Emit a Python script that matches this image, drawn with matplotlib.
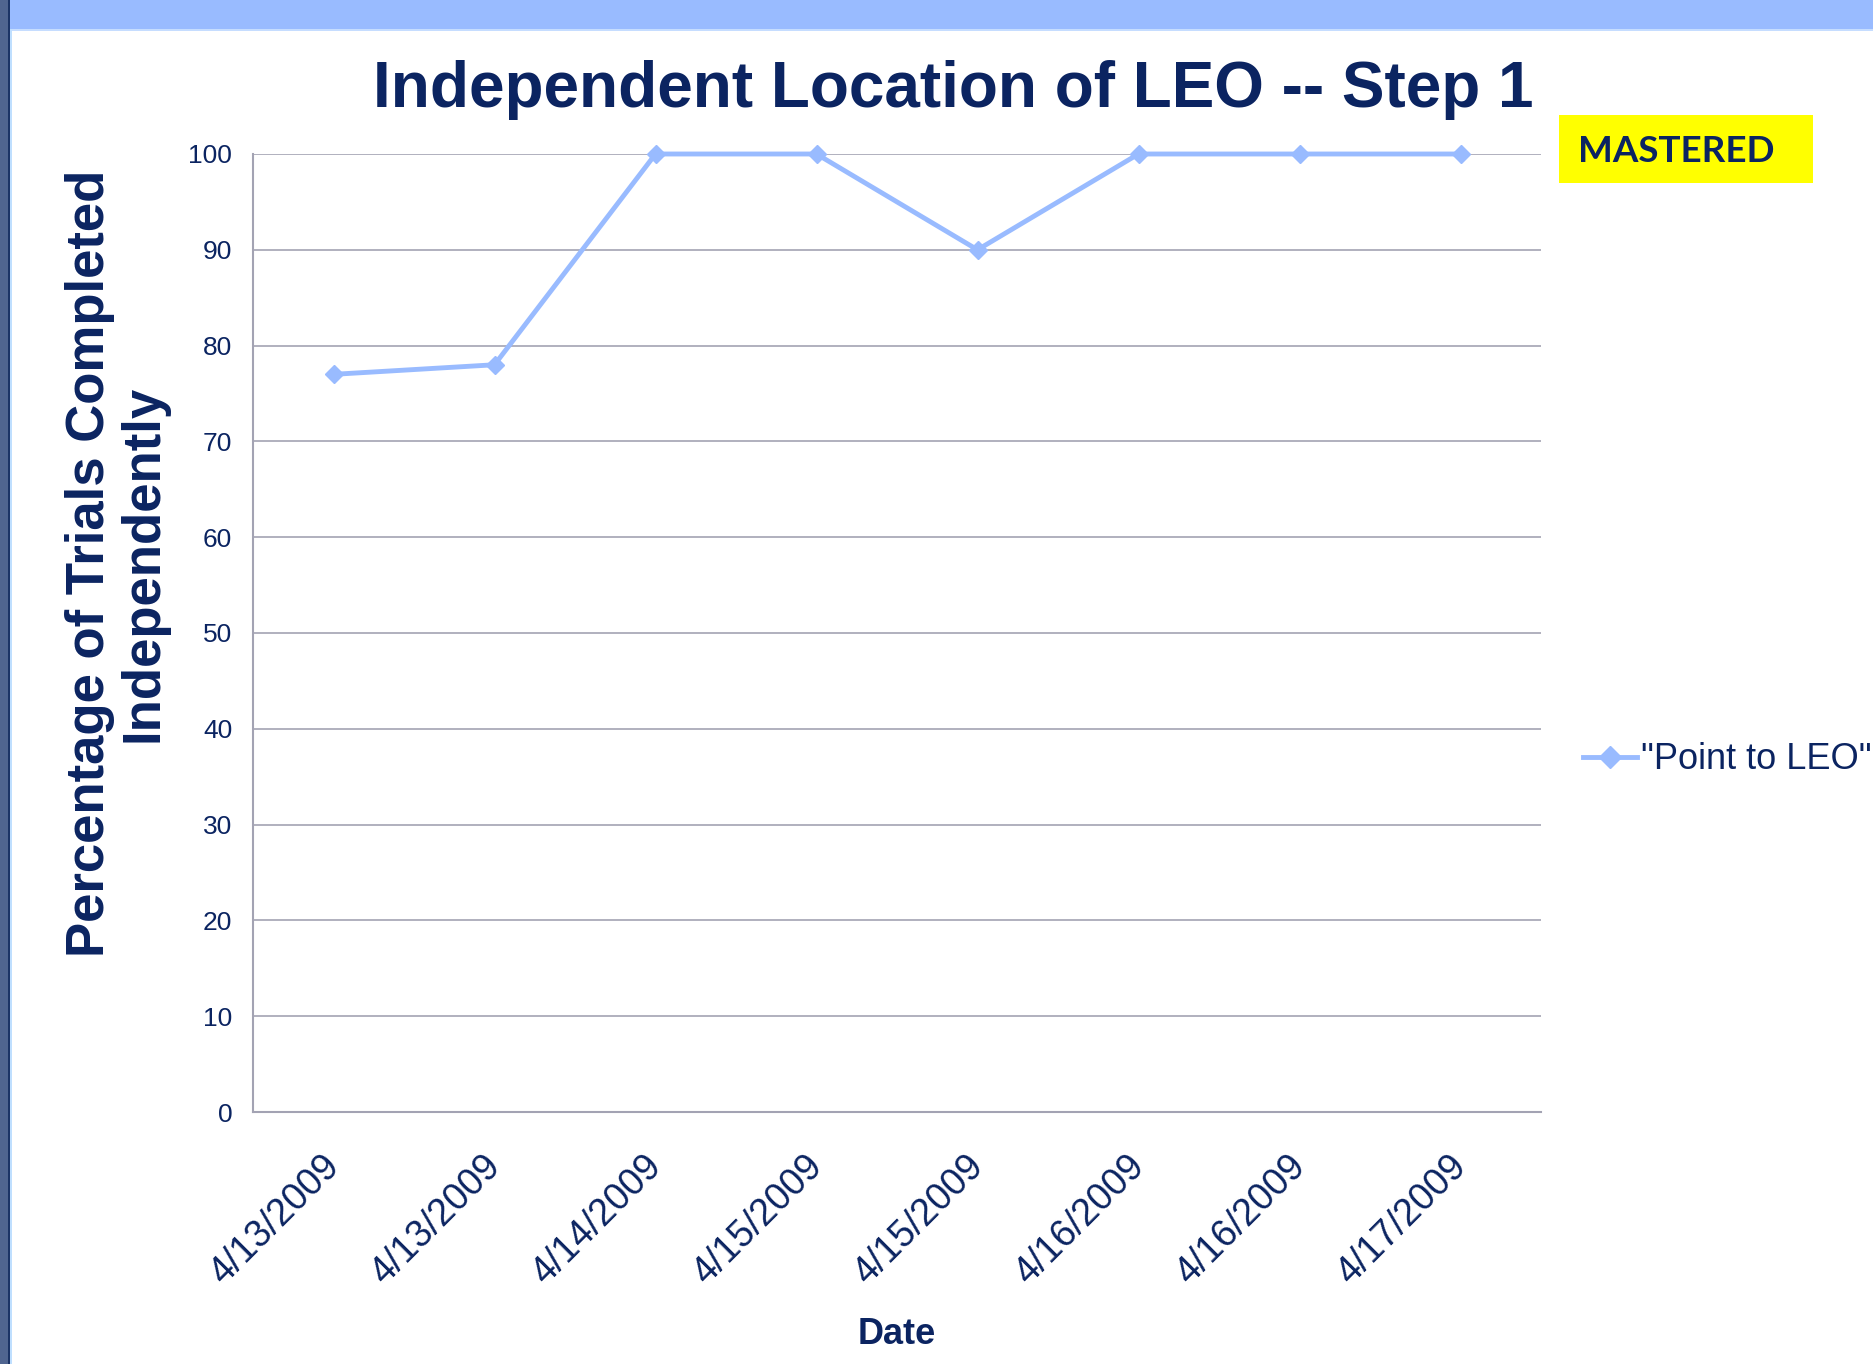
import matplotlib
matplotlib.use("Agg")
import matplotlib.pyplot as plt
from matplotlib.patches import Rectangle

dates = ["4/13/2009", "4/13/2009", "4/14/2009", "4/15/2009", "4/15/2009",
         "4/16/2009", "4/16/2009", "4/17/2009"]
values = [77, 78, 100, 100, 90, 100, 100, 100]
yticks = [0, 10, 20, 30, 40, 50, 60, 70, 80, 90, 100]
series_name = '"Point to LEO"'
title = "Independent Location of LEO -- Step 1"
ylabel = "Percentage of Trials Completed\nIndependently"
xlabel = "Date"
badge = "MASTERED"

W, H = 1873, 1364
navy = "#0B2461"
line_c = "#99BBFF"
grid_c = "#A3A3B3"

plt.rcParams['font.family'] = ['Liberation Sans', 'DejaVu Sans']
fig = plt.figure(figsize=(W / 100, H / 100), dpi=100)
fig.patch.set_facecolor("white")

def fx(px):
    return px / W

def fy(py):
    return 1 - py / H

# window frame decorations
fig.add_artist(Rectangle((0, fy(29)), 1, 29 / H, transform=fig.transFigure,
                         facecolor="#99BBFF", edgecolor="none"))
fig.add_artist(Rectangle((fx(10), fy(31)), 1, 2 / H, transform=fig.transFigure,
                         facecolor="#C6DDFF", edgecolor="none"))
fig.add_artist(Rectangle((0, 0), 8 / W, 1, transform=fig.transFigure,
                         facecolor="#506590", edgecolor="none"))
fig.add_artist(Rectangle((fx(8), 0), 2 / W, 1, transform=fig.transFigure,
                         facecolor="#1C3466", edgecolor="none"))
fig.add_artist(Rectangle((fx(10), 0), 2 / W, fy(29), transform=fig.transFigure,
                         facecolor="#BFDFFF", edgecolor="none"))

ax = fig.add_axes([fx(253), fy(1112), (1541 - 253) / W, (1112 - 154) / H])
x = list(range(len(dates)))
ax.plot(x, values, color=line_c, lw=3.5, marker="D", ms=9.5,
        markeredgecolor=line_c, label=series_name, zorder=3, clip_on=False)
ax.set_xlim(-0.5, len(dates) - 0.5)
ax.set_ylim(0, 100)
ax.set_yticks(yticks)
ax.set_yticklabels([str(v) for v in yticks], fontsize=19, color=navy)
ax.set_xticks(x)
ax.set_xticklabels(dates, rotation=45, ha="right", va="center",
                   rotation_mode="anchor", fontsize=27, color=navy)
ax.tick_params(axis="both", length=0)
ax.tick_params(axis="y", pad=15)
ax.tick_params(axis="x", pad=35)
ax.grid(axis="y", color=grid_c, lw=1.2)
ax.set_axisbelow(True)
for s in ["top", "right"]:
    ax.spines[s].set_visible(False)
for s in ["left", "bottom"]:
    ax.spines[s].set_color(grid_c)
    ax.spines[s].set_linewidth(1.5)

fig.text(fx(953), fy(90), title, ha="center", va="center", fontsize=46,
         fontweight="bold", color=navy)
fig.text(fx(117), fy(563), ylabel, ha="center", va="center", rotation=90,
         fontsize=38, fontweight="bold", color=navy, multialignment="center",
         linespacing=1.1)
fig.text(fx(897), fy(1334), xlabel, ha="center", va="center", fontsize=26,
         fontweight="bold", color=navy)

fig.add_artist(Rectangle((fx(1559), fy(183)), (1813 - 1559) / W, 68 / H,
                         transform=fig.transFigure, facecolor="#FFFF00",
                         edgecolor="none"))
fig.text(fx(1578), fy(152), badge, ha="left", va="center", fontsize=26.5,
         fontweight="bold", color=navy, family=["Lato", "DejaVu Sans"])

fig.legend(loc="center left", bbox_to_anchor=(fx(1565), fy(760)),
           frameon=False, fontsize=26, handlelength=1.5, handletextpad=0.1,
           borderpad=0, labelcolor=navy, markerscale=1.15)

fig.savefig("out.png", dpi=100)
